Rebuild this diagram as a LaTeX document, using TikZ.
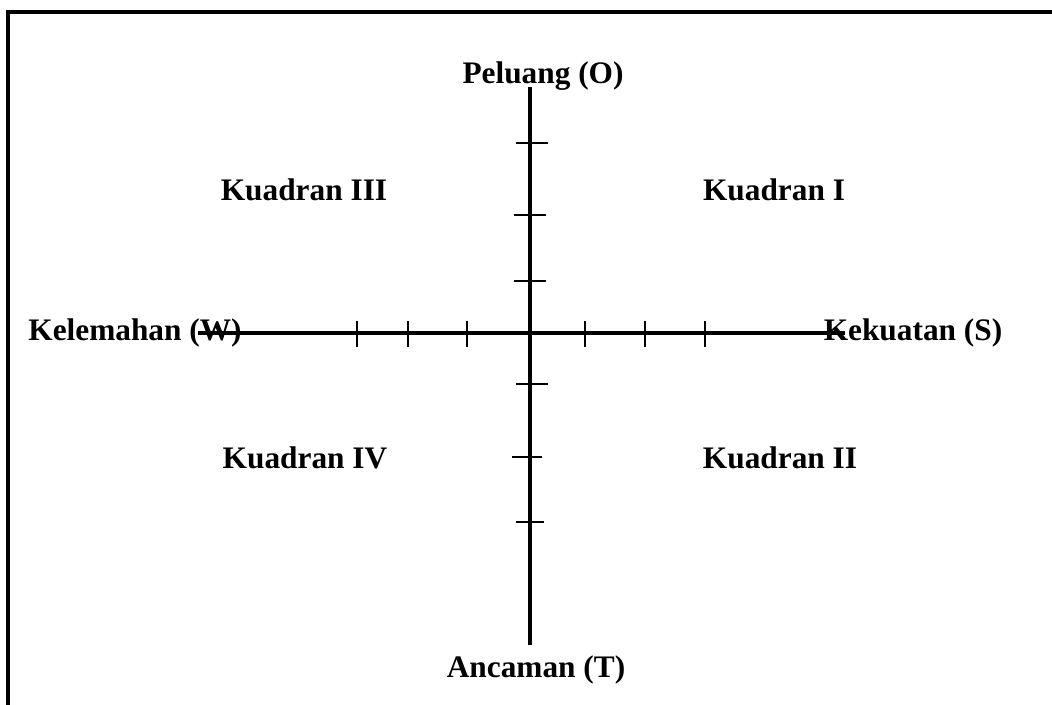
\documentclass[tikz,border=0pt]{standalone}
\usepackage{fontspec}
\setmainfont{Liberation Serif}
\usepackage{tikz}

\begin{document}
\begin{tikzpicture}[x=0.75pt,y=-0.75pt,
  lbl/.style={font=\fontsize{23.5}{27}\selectfont\bfseries,inner sep=0pt},
  axis/.style={line width=2.3pt},
  tick/.style={line width=2pt}]
\useasboundingbox (0,0) rectangle (1052,705);
\draw[line width=2.4pt] (8,705)--(8,12)--(1052,12);
\coordinate (top) at (530,87);
\coordinate (bot) at (530,645);
\coordinate (left) at (198,333);
\coordinate (right) at (845,333);
\draw[axis] (top)--(bot);
\draw[axis] (left)--(right);
\draw[tick] (357,321)--(357,347);
\draw[tick] (408,321)--(408,347);
\draw[tick] (467,321)--(467,347);
\draw[tick] (585,321)--(585,347);
\draw[tick] (645,321)--(645,347);
\draw[tick] (705,321)--(705,347);
\draw[tick] (516,143)--(548,143);
\draw[tick] (514,215)--(546,215);
\draw[tick] (514,281)--(546,281);
\draw[tick] (516,384)--(548,384);
\draw[tick] (512,457)--(542,457);
\draw[tick] (516,522)--(544,522);
\node[lbl] (peluang) at (543,76) {Peluang (O)};
\node[lbl] (ancaman) at (536,670) {Ancaman (T)};
\node[lbl] (kelemahan) at (135,333) {Kelemahan (W)};
\node[lbl] (kekuatan) at (913,333) {Kekuatan (S)};
\node[lbl] (kIII) at (304,190) {Kuadran III};
\node[lbl] (kI) at (774,190) {Kuadran I};
\node[lbl] (kIV) at (305,458) {Kuadran IV};
\node[lbl] (kII) at (780,458) {Kuadran II};
\end{tikzpicture}
\end{document}
